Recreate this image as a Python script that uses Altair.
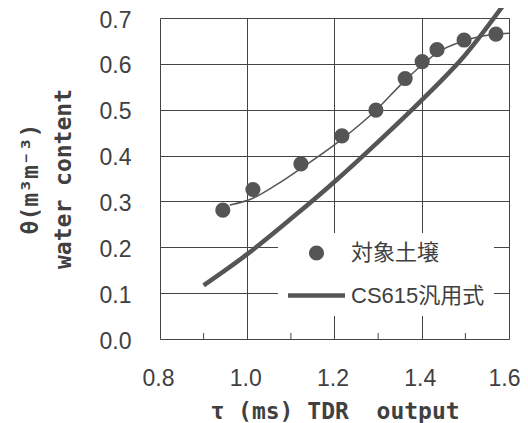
import altair as alt
import pandas as pd

# observed points (対象土壌)
tau_obs = [0.944, 1.013, 1.123, 1.217, 1.295, 1.362, 1.401, 1.435, 1.497, 1.570]
theta_obs = [0.281, 0.326, 0.382, 0.443, 0.499, 0.568, 0.605, 0.631, 0.652, 0.665]

# thin fitted curve through the observations
fit_tau = [0.960, 1.013, 1.068, 1.123, 1.217, 1.295, 1.362, 1.401, 1.435, 1.497, 1.570, 1.600]
fit_theta = [0.292, 0.307, 0.337, 0.372, 0.436, 0.499, 0.564, 0.598, 0.624, 0.650, 0.665, 0.667]

# CS615 generic calibration (thick line)
cs_tau = [0.9, 1.0, 1.1, 1.2, 1.3, 1.4, 1.5, 1.6]
cs_theta = [0.117, 0.185, 0.262, 0.343, 0.430, 0.521, 0.620, 0.745]

series_names = ["対象土壌", "CS615汎用式"]
x_ticks = [0.8, 1.0, 1.2, 1.4, 1.6]
x_minor = [0.9, 1.1, 1.3, 1.5]
y_ticks = [0.0, 0.1, 0.2, 0.3, 0.4, 0.5, 0.6, 0.7]

GRAY = "#555555"
TEXT = "#404040"
W, H = 349, 321
LINE_SYMBOL = "M-1,-0.08L1,-0.08L1,0.08L-1,0.08Z"

obs = pd.DataFrame({"tau": tau_obs, "theta": theta_obs, "series": series_names[0]})
fit = pd.DataFrame({"tau": fit_tau, "theta": fit_theta})
cs = pd.DataFrame({"tau": cs_tau, "theta": cs_theta})
minor = pd.DataFrame({"tau": x_minor})

xscale = alt.Scale(domain=[0.8, 1.6], nice=False, zero=False)
yscale = alt.Scale(domain=[0.0, 0.7], nice=False, zero=False)

last_label = "datum.value > 1.55"
xaxis = alt.Axis(
    values=x_ticks, format=".1f", grid=True, gridColor="#444444", gridWidth=1,
    ticks=False, domain=False, labelFont="Liberation Sans", labelFontSize=23,
    labelColor=TEXT, labelPadding=28, labelFlush=False,
    labelAlign={"condition": {"test": last_label, "value": "right"}, "value": "center"},
    labelOffset={"condition": {"test": last_label, "value": 11}, "value": -2},
    title="τ\u00a0(ms)\u00a0TDR\u00a0\u00a0output", titleFont="DejaVu Sans Mono", titleFontSize=23,
    titleFontWeight="bold", titleColor=TEXT, titlePadding=10,
)
yaxis = alt.Axis(
    values=y_ticks, format=".1f", grid=True, gridColor="#444444", gridWidth=1,
    ticks=False, domain=False, labelFont="Liberation Sans", labelFontSize=23,
    labelColor=TEXT, labelPadding=29, labelFlush=False, labelOffset=2,
    title=["θ(m³m⁻³)", "water content"], titleFont="DejaVu Sans Mono",
    titleFontSize=23, titleFontWeight="bold", titleColor=TEXT,
    titleLineHeight=33, titlePadding=24,
)

base_x = alt.X("tau:Q", scale=xscale, axis=xaxis)
base_y = alt.Y("theta:Q", scale=yscale, axis=yaxis)

cs_line = alt.Chart(cs).mark_line(color=GRAY, strokeWidth=4.5, interpolate="monotone").encode(
    x=base_x, y=base_y
)
fit_line = alt.Chart(fit).mark_line(color=GRAY, strokeWidth=1.5, interpolate="monotone").encode(
    x=alt.X("tau:Q", scale=xscale), y=alt.Y("theta:Q", scale=yscale)
)
legend = alt.Legend(
    title=None, orient="none", legendX=118, legendY=215, padding=9,
    fillColor="white", labelFont="Liberation Sans, Noto Sans CJK JP",
    labelFontSize=22, labelColor=TEXT, labelOffset=5, rowPadding=2,
    symbolFillColor=GRAY, symbolOpacity=1,
)
points = alt.Chart(obs).mark_point(
    filled=True, fill=GRAY, opacity=1
).encode(
    x=alt.X("tau:Q", scale=xscale),
    y=alt.Y("theta:Q", scale=yscale),
    shape=alt.Shape("series:N", scale=alt.Scale(domain=series_names, range=["circle", LINE_SYMBOL]), legend=legend),
    size=alt.Size("series:N", scale=alt.Scale(domain=series_names, range=[230, 3249]), legend=legend),
)
ticks = alt.Chart(minor).mark_rule(color="#444444", strokeWidth=1).encode(
    x=alt.X("tau:Q", scale=xscale), y=alt.value(H), y2=alt.value(H - 6)
)

chart = alt.layer(ticks, cs_line, fit_line, points).properties(
    width=W, height=H,
    autosize=alt.AutoSizeParams(type="none"),
    padding={"left": 152, "top": 10, "right": 11, "bottom": 84},
).configure_view(stroke="#333333", strokeWidth=1.2).configure(background="white")

chart.save("out.html", embed_options={"renderer": "svg", "actions": False})
